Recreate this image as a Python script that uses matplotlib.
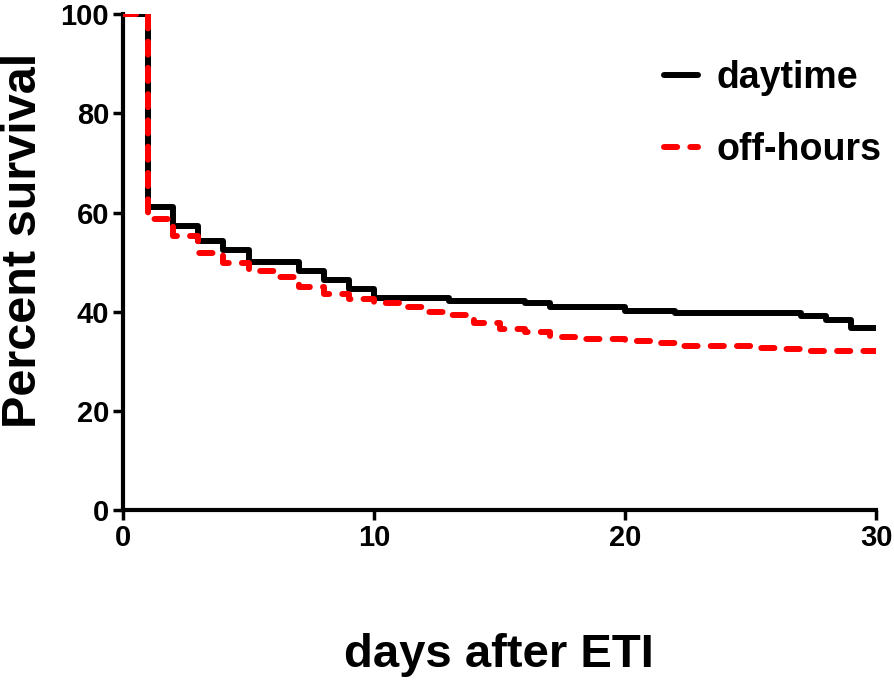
import matplotlib
matplotlib.use("Agg")
import matplotlib.pyplot as plt

# Kaplan-Meier step curves
day_days = [0, 1, 2, 3, 4, 5, 7, 8, 9, 10, 13, 16, 17, 20, 22, 27, 28, 29, 30]
day_surv = [100, 61.1, 57.3, 54.2, 52.4, 50.0, 48.2, 46.4, 44.6, 42.8, 42.1, 41.7, 41.0,
            40.1, 39.7, 39.1, 38.3, 36.7, 36.7]

off_days = [0, 1, 2, 3, 4, 5, 6, 7, 8, 9, 10, 11, 12, 13, 14, 15, 16, 17, 18, 20, 21, 22,
            25, 26, 27, 30]
off_surv = [100, 58.8, 55.2, 51.8, 49.8, 48.2, 47.0, 44.9, 43.5, 42.5, 41.8, 41.0, 40.0,
            39.3, 37.7, 36.5, 35.9, 34.9, 34.5, 34.1, 33.7, 33.1, 32.7, 32.4, 32.1, 32.1]

x_ticks = [0, 10, 20, 30]
y_ticks = [0, 20, 40, 60, 80, 100]

plt.rcParams["font.family"] = ["Liberation Sans", "DejaVu Sans"]
plt.rcParams["font.weight"] = "bold"

fig = plt.figure(figsize=(8.94, 6.81), dpi=100)
ax = fig.add_axes([0.1376, 0.251, 0.8424, 0.728])

ax.step(day_days, day_surv, where="post", color="black", lw=4.3,
        solid_capstyle="round", label="daytime", zorder=2)
ax.step(off_days, off_surv, where="post", color="red", lw=4.3,
        linestyle=(0, (2.2, 2.2)), dash_capstyle="round", label="off-hours", zorder=3)

ax.set_xlim(0, 30)
ax.set_ylim(0, 100)
ax.set_xticks(x_ticks)
ax.set_yticks(y_ticks)

for side in ["top", "right"]:
    ax.spines[side].set_visible(False)
for side in ["left", "bottom"]:
    ax.spines[side].set_linewidth(3)
ax.tick_params(width=2.5, length=7, labelsize=21, pad=3)
for lbl in ax.get_xticklabels() + ax.get_yticklabels():
    lbl.set_fontweight("bold")

# axis titles placed in figure coords to match the reference offsets
fig.text(0.026, 1 - 240 / 681, "Percent survival", fontsize=35, fontweight="bold",
         rotation=90, ha="center", va="center")
fig.text(0.558, 1 - 655 / 681, "days after ETI", fontsize=34, fontweight="bold",
         ha="center", va="center")

leg = ax.legend(loc="upper right", bbox_to_anchor=(1.052, 0.975), frameon=False,
                handlelength=0.9, handletextpad=0.5, labelspacing=0.95,
                prop={"weight": "bold", "size": 27})

fig.savefig("out.png", dpi=100)
